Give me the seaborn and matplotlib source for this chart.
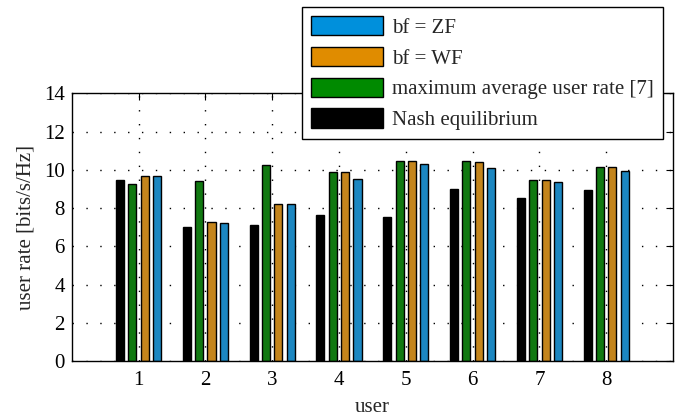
import matplotlib
matplotlib.use("Agg")
import matplotlib.pyplot as plt
import seaborn as sns
import pandas as pd
from matplotlib.patches import Patch

users = [1, 2, 3, 4, 5, 6, 7, 8]
series = ["Nash equilibrium", "maximum average user rate [7]", "bf = WF", "bf = ZF"]
nash = [9.48, 7.03, 7.13, 7.66, 7.55, 8.98, 8.50, 8.93]
max_avg = [9.28, 9.42, 10.26, 9.91, 10.45, 10.44, 9.49, 10.12]
wf = [9.70, 7.27, 8.23, 9.86, 10.47, 10.42, 9.49, 10.16]
zf = [9.66, 7.22, 8.20, 9.53, 10.28, 10.07, 9.37, 9.95]
colors = ["#000000", "#008a00", "#e08c00", "#0090dc"]
yticks = [0, 2, 4, 6, 8, 10, 12, 14]

rows = []
for name, vals in zip(series, [nash, max_avg, wf, zf]):
    for u, v in zip(users, vals):
        rows.append({"user": u, "rate": v, "series": name})
df = pd.DataFrame(rows)

sns.set_style("white")
plt.rcParams["font.family"] = ["Liberation Serif", "DejaVu Serif"]

FS = 15
fig = plt.figure(figsize=(6.91, 4.20), dpi=100)
ax = fig.add_axes([71.7 / 691, 1 - 361 / 420, (673 - 71.7) / 691, (361 - 93.3) / 420])

sns.barplot(data=df, x="user", y="rate", hue="series", hue_order=series,
            palette=colors, native_scale=True, width=0.74, gap=0.35,
            edgecolor="black", linewidth=1.0, ax=ax, legend=False, errorbar=None)

ax.set_xlim(0, 9)
ax.set_ylim(0, 14)
ax.set_xticks(users)
ax.set_xticklabels([str(u) for u in users])
ax.set_yticks(yticks)
ax.set_yticklabels([str(t) for t in yticks])
ax.grid(True, linestyle=(0, (1, 9)), color="black", linewidth=1.0)
ax.set_axisbelow(True)
ax.tick_params(direction="in", length=5, width=0.8, top=True, right=True,
               labelsize=FS, colors="black")
ax.tick_params(axis="y", pad=5)
ax.tick_params(axis="x", pad=7)
for s in ax.spines.values():
    s.set_visible(True)
    s.set_color("black")
    s.set_linewidth(1.0)
ax.set_xlabel("user", fontsize=FS, labelpad=6)
ax.set_ylabel("user rate [bits/s/Hz]", fontsize=FS, labelpad=6)

handles = [Patch(facecolor=c, edgecolor="black", linewidth=1.0, label=n)
           for n, c in zip(series, colors)][::-1]
leg = fig.legend(handles=handles, loc="upper left",
                 bbox_to_anchor=(302 / 691, 1 - 6.7 / 420), bbox_transform=fig.transFigure,
                 fontsize=FS, handlelength=3.45, handleheight=1.05, labelspacing=0.43,
                 handletextpad=0.4, borderpad=0.45, borderaxespad=0, fancybox=False,
                 framealpha=1, edgecolor="black")
leg.get_frame().set_linewidth(1.0)

fig.savefig("out.png", dpi=100)
